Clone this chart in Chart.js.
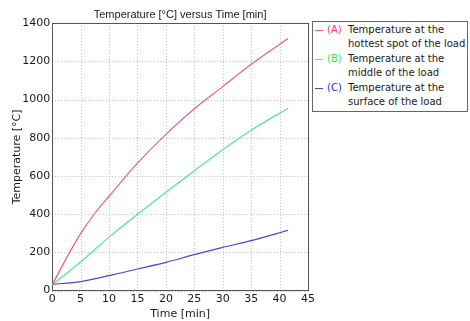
<!DOCTYPE html>
<html lang="en">
<head>
  <meta charset="UTF-8" />
  <title>Temperature versus Time</title>
  <script src="https://cdn.jsdelivr.net/npm/chart.js"></script>
  <style>
    html, body { margin: 0; padding: 0; background: #fff; }
    .wrap { position: relative; width: 470px; height: 321px; }
    .legend {
      position: absolute;
      left: 312px;
      top: 21px;
      width: 154px;
      border: 1px solid #666;
      background: #fff;
      font: 10px "DejaVu Sans", sans-serif;
      color: #1a1a1a;
      padding: 1px 0 2px 0;
      white-space: nowrap;
    }
    .legend .item { position: relative; padding-left: 35px; line-height: 14.4px; }
    .legend .swatch { position: absolute; left: 2px; top: 7px; width: 8px; height: 1px; }
    .legend .tag { position: absolute; left: 14px; top: 0; }
  </style>
</head>
<body>
<div class="wrap">
  <canvas id="chart" width="470" height="321"></canvas>
  <div class="legend" id="legend"></div>
</div>

<script>
  // data
  const timeA = [0, 2.5, 5, 7.5, 10, 15, 20, 25, 30, 35, 41.5];
  const tempA = [30, 170, 298, 405, 494, 667, 818, 952, 1068, 1185, 1320];

  const timeB = [0, 5, 10, 15, 20, 25, 30, 35, 41.5];
  const tempB = [30, 150, 280, 400, 515, 628, 738, 840, 955];

  const timeC = [0, 5, 10, 15, 20, 25, 30, 35, 40, 41.5];
  const tempC = [33, 47, 78, 113, 148, 188, 226, 262, 303, 316];

  const seriesTags = ['(A)', '(B)', '(C)'];
  const seriesLabels = [
    ['Temperature at the', 'hottest spot of the load'],
    ['Temperature at the', 'middle of the load'],
    ['Temperature at the', 'surface of the load']
  ];
  const lineColors = ['#ec5f82', '#4fe6a0', '#4a46d6'];
  const tagColors = ['#ff2f6a', '#3de04a', '#2d2de8'];

  const toPoints = (xs, ys) => xs.map((x, i) => ({ x: x, y: ys[i] }));

  const font = { family: 'DejaVu Sans', size: 11 };

  new Chart(document.getElementById('chart'), {
    type: 'line',
    data: {
      datasets: [
        { data: toPoints(timeA, tempA), borderColor: lineColors[0] },
        { data: toPoints(timeB, tempB), borderColor: lineColors[1] },
        { data: toPoints(timeC, tempC), borderColor: lineColors[2] }
      ].map(d => Object.assign(d, { borderWidth: 1.2, pointRadius: 0, cubicInterpolationMode: 'monotone', fill: false }))
    },
    options: {
      responsive: false,
      animation: false,
      layout: { padding: { left: 6, right: 162, top: 0, bottom: 0 } },
      plugins: {
        legend: { display: false },
        tooltip: { enabled: false },
        title: {
          display: true,
          fullSize: false,
          text: 'Temperature [\u00B0C] versus Time [min]',
          color: '#1a1a1a',
          font: { family: 'Liberation Sans', size: 11, weight: 'normal' },
          padding: { top: 8, bottom: 2 }
        }
      },
      scales: {
        x: {
          type: 'linear',
          min: 0,
          max: 45,
          ticks: { stepSize: 5, color: '#1a1a1a', font: font, padding: 2, maxRotation: 0, callback: v => String(v) },
          grid: { display: false, drawTicks: false },
          border: { display: true, color: '#555' },
          title: { display: true, text: 'Time [min]', color: '#1a1a1a', font: font, padding: { top: 0, bottom: 0 } }
        },
        y: {
          min: 0,
          max: 1400,
          ticks: { stepSize: 200, color: '#1a1a1a', font: font, padding: 2, callback: v => String(v) },
          grid: { display: false, drawTicks: false },
          border: { display: true, color: '#555' },
          title: { display: true, text: 'Temperature [\u00B0C]', color: '#1a1a1a', font: font, padding: { top: 5, bottom: -4 } }
        }
      }
    },
    plugins: [{
      id: 'dottedGrid',
      beforeDatasetsDraw(chart) {
        // dotted grid lines and the frame round the plot
        const { ctx, chartArea: a, scales } = chart;
        ctx.save();
        ctx.strokeStyle = '#bdbdbd';
        ctx.setLineDash([1, 2]);
        ctx.lineWidth = 1;
        scales.x.ticks.forEach(t => {
          const x = Math.round(scales.x.getPixelForValue(t.value)) + 0.5;
          ctx.beginPath(); ctx.moveTo(x, a.top); ctx.lineTo(x, a.bottom); ctx.stroke();
        });
        scales.y.ticks.forEach(t => {
          const y = Math.round(scales.y.getPixelForValue(t.value)) + 0.5;
          ctx.beginPath(); ctx.moveTo(a.left, y); ctx.lineTo(a.right, y); ctx.stroke();
        });
        ctx.setLineDash([]);
        ctx.strokeStyle = '#555';
        ctx.strokeRect(Math.round(a.left) + 0.5, Math.round(a.top) + 0.5, Math.round(a.right - a.left), Math.round(a.bottom - a.top));
        ctx.restore();
      }
    }]
  });

  const legend = document.getElementById('legend');
  seriesLabels.forEach((lines, i) => {
    const item = document.createElement('div');
    item.className = 'item';
    item.innerHTML = '<span class="swatch" style="background:' + lineColors[i] + '"></span>' +
      '<span class="tag" style="color:' + tagColors[i] + '">' + seriesTags[i] + '</span>' +
      lines.join('<br>');
    legend.appendChild(item);
  });
</script>
</body>
</html>
